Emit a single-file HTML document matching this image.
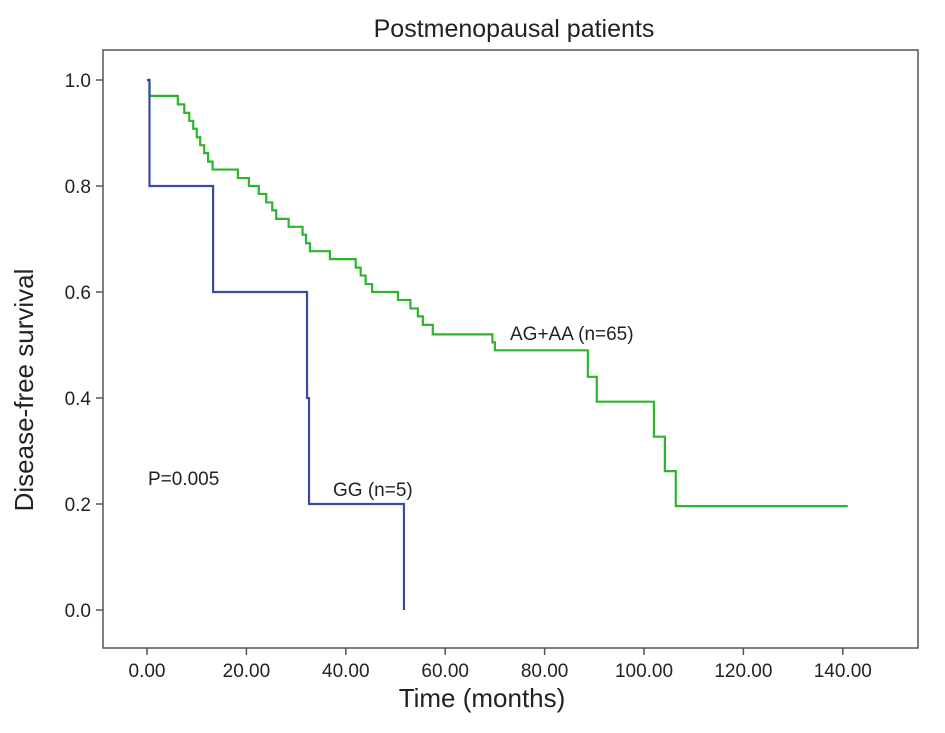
<!DOCTYPE html>
<html><head><meta charset="utf-8"><style>
body{margin:0;background:#fff;}
svg text{font-family:"Liberation Sans",Arial,sans-serif;fill:#222;}
</style></head><body>
<svg id="chart" width="945" height="728">
<text x="514" y="37" font-size="25" text-anchor="middle">Postmenopausal patients</text>
<rect x="103" y="50" width="815" height="598" fill="none" stroke="#555" stroke-width="1.5"/>
<g id="axes"></g>
<g id="series"></g>
<text x="33" y="390" font-size="26" text-anchor="middle" transform="rotate(-90 33 390)">Disease-free survival</text>
<text x="482" y="707" font-size="26" text-anchor="middle">Time (months)</text>
<text x="148" y="485" font-size="19">P=0.005</text>
<text x="333" y="496" font-size="19">GG (n=5)</text>
<text x="510" y="340" font-size="19">AG+AA (n=65)</text>
</svg>
<script>
const xTicks=[0,20,40,60,80,100,120,140];
const yTicks=[0,0.2,0.4,0.6,0.8,1.0];
const greenTimes=[0,0.5,6.2,7.5,8.5,9.3,10,10.7,11.5,12.3,13.2,18.3,20.5,22.5,24,25.2,26,28.5,31.3,32,32.8,36.8,42,43,44,45.3,50.5,53,54.5,55.5,57.5,69.5,70,88.7,90.5,102,104.2,106.4];
const greenSurv=[1.0,0.97,0.954,0.938,0.923,0.908,0.892,0.877,0.862,0.846,0.831,0.815,0.80,0.785,0.769,0.754,0.738,0.723,0.708,0.692,0.677,0.662,0.646,0.631,0.615,0.60,0.585,0.569,0.554,0.538,0.52,0.505,0.49,0.44,0.393,0.327,0.262,0.196];
const greenEnd=141;
const blueTimes=[0,0.5,13.3,32.2,32.6,51.7];
const blueSurv=[1.0,0.8,0.6,0.4,0.2,0.0];
const blueEnd=51.7;
const X=t=>147+t*4.97, Y=s=>610-s*530;
const NS="http://www.w3.org/2000/svg";
const axes=document.getElementById('axes'), ser=document.getElementById('series');
function mk(tag,attrs,parent){const e=document.createElementNS(NS,tag);for(const k in attrs)e.setAttribute(k,attrs[k]);parent.appendChild(e);return e;}
xTicks.forEach(v=>{
 const l=mk('line',{x1:X(v),x2:X(v),y1:648,y2:655,stroke:'#555','stroke-width':1.5},axes);
 
 
 const t=mk('text',{x:X(v),y:677,'font-size':19,'text-anchor':'middle'},axes);t.textContent=v.toFixed(2);
 
 
});
yTicks.forEach(v=>{
 const l=mk('line',{x1:96,x2:103,y1:Y(v),y2:Y(v),stroke:'#555','stroke-width':1.5},axes);
 
 
 const t=mk('text',{x:91,y:Y(v)+7,'font-size':19,'text-anchor':'end'},axes);t.textContent=v.toFixed(1);
 
 
});
function stepPath(ts,ss,end){let d='M'+X(ts[0])+','+Y(ss[0]);for(let i=1;i<ts.length;i++){d+=' H'+X(ts[i])+' V'+Y(ss[i]);}d+=' H'+X(end);return d;}
const g=mk('path',{d:stepPath(greenTimes,greenSurv,greenEnd),fill:'none',stroke:'#2db52d','stroke-width':2.2},ser);


const b=mk('path',{d:stepPath(blueTimes,blueSurv,blueEnd),fill:'none',stroke:'#3a4aa0','stroke-width':2.2},ser);


</script>
</body></html>
